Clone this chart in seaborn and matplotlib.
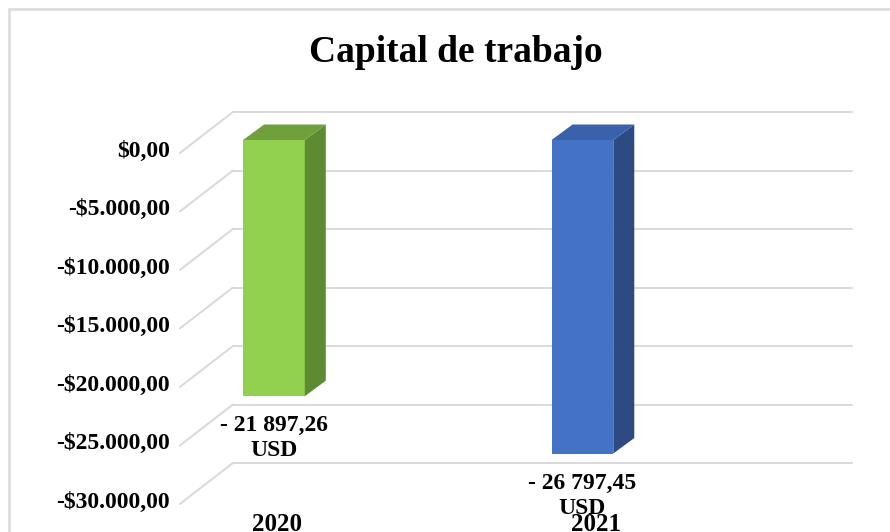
import numpy as np
import pandas as pd
import matplotlib
matplotlib.use('Agg')
import matplotlib.pyplot as plt
import seaborn as sns
from matplotlib.patches import Polygon, Rectangle

# Chart data
years = ['2020', '2021']
capital = [-21897.26, -26797.45]
value_labels = ['- 21 897,26\nUSD', '- 26 797,45\nUSD']
ticks = [0, -5000, -10000, -15000, -20000, -25000, -30000]
tick_labels = ['$0,00', '-$5.000,00', '-$10.000,00', '-$15.000,00',
               '-$20.000,00', '-$25.000,00', '-$30.000,00']
front_colors = ['#92D050', '#4472C4']
side_colors = ['#5E8B32', '#2D4B82']
top_colors = ['#70A03C', '#3A62AA']

df = pd.DataFrame({'year': years, 'capital': capital})

sns.set_style('white')
plt.rcParams['font.family'] = ['Liberation Serif', 'DejaVu Serif']
plt.rcParams['font.weight'] = 'bold'
plt.rcParams['text.color'] = 'black'

fig = plt.figure(figsize=(8.9, 5.32), dpi=100)
ax = fig.add_axes([0, 0, 1, 1])

sns.barplot(data=df, x='year', y='capital', hue='year', palette=front_colors,
            width=0.2, saturation=1, errorbar=None, legend=False, ax=ax,
            zorder=3, linewidth=0)

# map the axes so one unit sits where the picture wants it
ax.set_xlim(-0.888, 1.997)
ax.set_ylim(-33504, 11966)
ax.axis('off')

px_x = 1 / 308.5      # x units per pixel
px_y = 1 / 0.0117     # y units per pixel

# fake 3D depth of the bars
ddx = 21 * px_x
ddy = 15.5 * px_y
for p, sc, tc in zip(ax.patches, side_colors, top_colors):
    x0, w = p.get_x(), p.get_width()
    top = max(p.get_y(), p.get_y() + p.get_height())
    bot = min(p.get_y(), p.get_y() + p.get_height())
    side = Polygon([(x0 + w, top), (x0 + w + ddx, top + ddy),
                    (x0 + w + ddx, bot + ddy), (x0 + w, bot)],
                   closed=True, facecolor=sc, edgecolor='none', zorder=3)
    lid = Polygon([(x0, top), (x0 + ddx, top + ddy),
                   (x0 + w + ddx, top + ddy), (x0 + w, top)],
                  closed=True, facecolor=tc, edgecolor='none', zorder=3)
    ax.add_patch(side)
    ax.add_patch(lid)

# back wall grid and left wall diagonals
back_left, back_right = -0.133, 1.874
front_left = -0.305
for t, lab in zip(ticks, tick_labels):
    yb = t + 28 * px_y
    yf = t - 13 * px_y
    ax.plot([back_left, back_right], [yb, yb], color='#D9D9D9', lw=1.4, zorder=1)
    ax.plot([front_left, back_left], [yf, yb], color='#D9D9D9', lw=1.4, zorder=1)
    ax.text(-0.337, t - 11 * px_y, lab, ha='right', va='center', fontsize=17,
            fontweight='bold', color='black')

# value labels below the bars
for i, (v, lab) in enumerate(zip(capital, value_labels)):
    ax.text(i, v - 42 * px_y, lab, ha='center', va='center', fontsize=17,
            fontweight='bold', linespacing=1.25, color='black', zorder=5)

# category labels on the floor
for i, yr in enumerate(years):
    ax.text(i + 0.01 + 0.035 * i, -30000 - 33 * px_y, yr, ha='center',
            va='center', fontsize=18, fontweight='bold', color='black', zorder=4)

fig.text(456 / 890, 1 - 52 / 532, 'Capital de trabajo', ha='center',
         va='center', fontsize=27, fontweight='bold', color='black')

# chart area border
fig.patches.append(Rectangle((9 / 890, -0.05), 1.0, 1 - 9 / 532 + 0.05,
                             transform=fig.transFigure, fill=False,
                             edgecolor='#D9D9D9', lw=1.8))

fig.savefig('out.png', dpi=100)
